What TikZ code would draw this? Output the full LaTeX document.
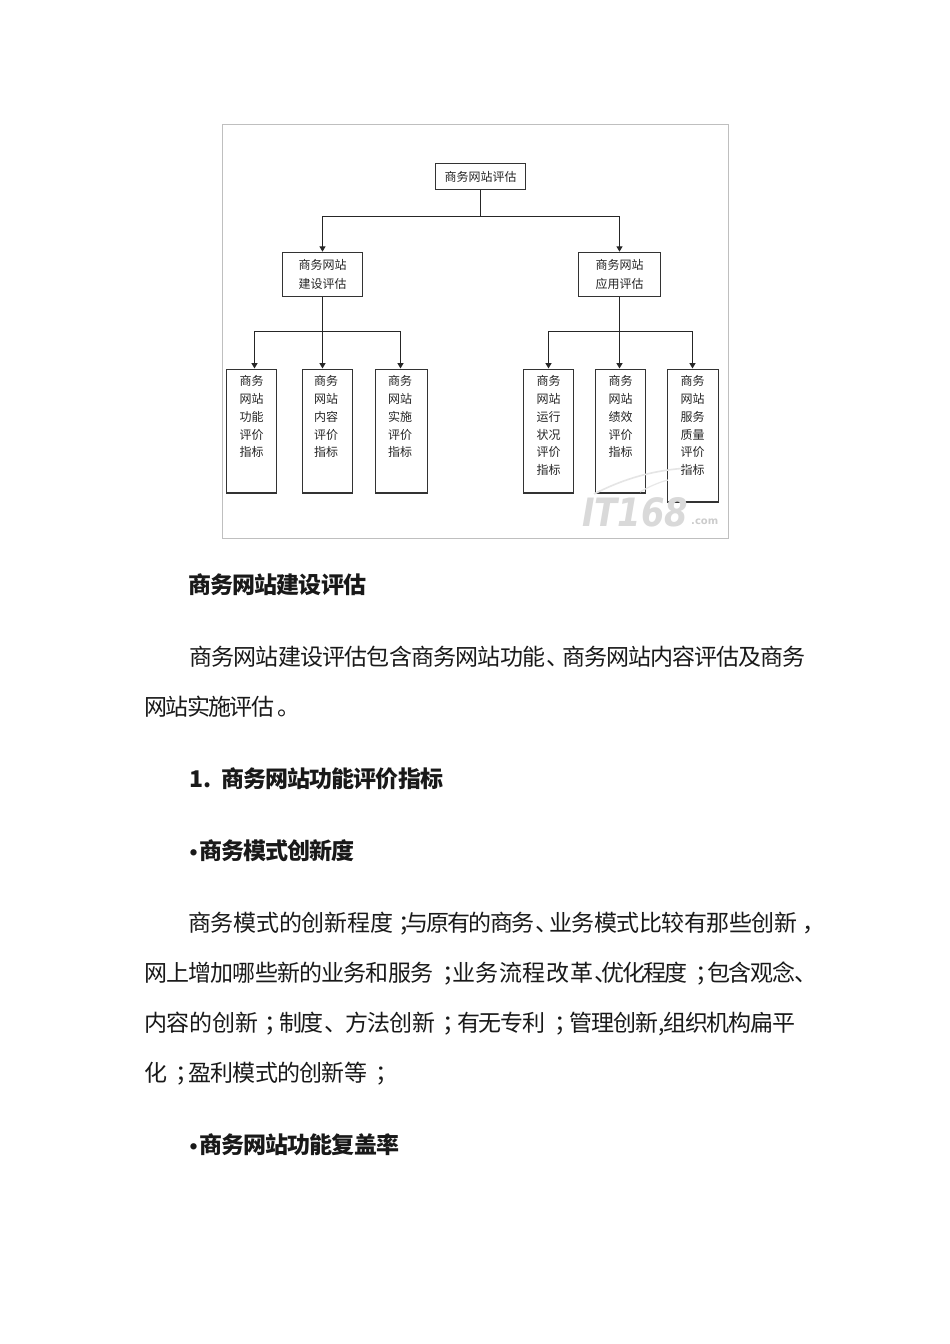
\documentclass[tikz,border=0pt]{standalone}
\usepackage{fontspec}
\setmainfont{Noto Sans CJK SC}
\newfontfamily\wmfont{DejaVu Sans}
\usetikzlibrary{arrows.meta}
\makeatletter
% set the characters of #2 evenly across #1 pt
\newcommand\seg[2]{\makebox[#1pt][s]{\@tempswafalse\@tfor\@ch:=#2\do{\if@tempswa\hskip 0pt plus 1fil minus 1fil\fi\@tempswatrue\@ch}}}
\makeatother
% punctuation #3 in a gap of #1 pt, set in by #2 pt
\newcommand\pn[3]{\makebox[#1pt][l]{\hspace{#2pt}#3}}
\newcommand\bul{\makebox[11pt][l]{\hspace{-0.3pt}{\wmfont\fontsize{18}{18}\selectfont •}}}
\tikzset{
 x=1pt,y=-1pt,
 box/.style={draw=black!80,line width=1.5pt,fill=white,inner sep=0pt,align=center,font=\fontsize{12}{17.75}\selectfont,text=black!85},
 plain/.style={box,draw=none,fill=none,anchor=north},
 leafbox/.style={box,minimum width=50pt,minimum height=123.5pt,anchor=north},
 midbox/.style={box,minimum width=80pt,minimum height=44pt},
 conn/.style={draw=black!85,line width=1.5pt},
 arr/.style={conn,-{Triangle[length=5.5pt,width=6pt]}},
 body/.style={anchor=west,inner sep=0pt,font=\fontsize{23}{23}\selectfont,text=black!90,text height=19pt,text depth=3pt},
 head/.style={body,font=\fontsize{23}{23}\selectfont\bfseries},
}
\begin{document}
\begin{tikzpicture}
\useasboundingbox (0,0) rectangle (950,1344);
\fill[white] (0,0) rectangle (950,1344);
\node[draw=black!25,line width=1pt,minimum width=506pt,minimum height=414pt,inner sep=0pt] (frame) at (475.5,331) {};
\node[box,minimum width=90pt,minimum height=26pt] (root) at (480.5,176.5) {商务网站评估};
\node[midbox] (build) at (322.5,274.5) {\shortstack{商务网站\\[5.7pt]建设评估}};
\node[midbox,minimum width=82pt] (apply) at (619.5,274.5) {\shortstack{商务网站\\[5.7pt]应用评估}};
\coordinate (busA) at (480.5,216.5);
\coordinate (busB) at (322.5,331.5);
\coordinate (busC) at (619.5,331.5);
\node[leafbox] (l1) at (251.5,368.5) {};
\node[leafbox] (l2) at (327.5,368.5) {};
\node[leafbox,minimum width=52pt] (l3) at (401.5,368.5) {};
\node[leafbox] (r1) at (548.5,368.5) {};
\node[leafbox] (r2) at (620.5,368.5) {};
\node[leafbox,minimum width=51pt,minimum height=132.5pt] (r3) at (693,368.5) {};
\node[plain] (tl1) at (251.5,375) {商务\\网站\\功能\\评价\\指标};
\node[plain] (tl2) at (326,375) {商务\\网站\\内容\\评价\\指标};
\node[plain] (tl3) at (400,375) {商务\\网站\\实施\\评价\\指标};
\node[plain] (tr1) at (548.5,375) {商务\\网站\\运行\\状况\\评价\\指标};
\node[plain] (tr2) at (620.5,375) {商务\\网站\\绩效\\评价\\指标};
\node[plain] (tr3) at (692.5,375) {商务\\网站\\服务\\质量\\评价\\指标};
\draw[conn] (root.south) -- (busA);
\draw[arr] (busA) -| (build.north);
\draw[arr] (busA) -| (apply.north);
\draw[conn] (build.south) -- (busB);
\draw[conn] (apply.south) -- (busC);
\draw[arr] (busB) -| ([xshift=3pt]l1.north);
\draw[arr] (busB) -- ([xshift=-5pt]l2.north);
\draw[arr] (busB) -| ([xshift=-1pt]l3.north);
\draw[arr] (busC) -| (r1.north);
\draw[arr] (busC) -- (r2.north -| busC);
\draw[arr] (busC) -| ([xshift=-0.5pt]r3.north);
% watermark
\draw[black!10,line width=1.6pt] (594,494) .. controls (625,478) and (655,470) .. (688,468);
\draw[black!9,line width=1.2pt] (640,492) .. controls (650,486) and (660,482) .. (668,480);
\node[text=black!15,inner sep=0pt,anchor=west] (mark) at (582,512.5) {\resizebox{106pt}{29pt}{\wmfont\bfseries\itshape IT168}};
\node[font=\wmfont\fontsize{10}{10}\selectfont\bfseries,text=black!20,inner sep=0pt,anchor=west] (markb) at (691,522) {.com};
% text
\node[head] (t1) at (188,585) {\seg{178}{商务网站建设评估}};
\node[body] (t2) at (189,657) {\seg{356}{商务网站建设评估包含商务网站功能}\pn{17}{1.5}{、}\seg{243}{商务网站内容评估及商务}};
\node[body] (t3) at (144,707) {\seg{130}{网站实施评估}\pn{20}{3}{。}};
\node[head] (t4) at (189,779) {\makebox[32pt][l]{1.}\seg{222}{商务网站功能评价指标}};
\node[head] (t5) at (188,851) {\bul\seg{155}{商务模式创新度}};
\node[body] (t6) at (188,923) {\seg{205}{商务模式的创新程度}\pn{12}{5.3}{；}\seg{129}{与原有的商务}\pn{15}{1.5}{、}\seg{248}{业务模式比较有那些创新}\pn{14}{5}{，}};
\node[body] (t7) at (144,973) {\seg{289}{网上增加哪些新的业务和服务}\pn{19}{9.3}{；}\seg{141}{业务流程改革}\pn{8}{1}{、}\seg{86}{优化程度}\pn{20}{8.3}{；}\seg{88}{包含观念}\pn{12}{-0.5}{、}};
\node[body] (t8) at (144,1023) {\seg{114}{内容的创新}\pn{21}{6}{；}\seg{44}{制度}\pn{22}{1.5}{、}\seg{90}{方法创新}\pn{22}{7.5}{；}\seg{88}{有无专利}\pn{24}{9.5}{；}\seg{89}{管理创新}\pn{5}{0}{,}\seg{132}{组织机构扁平}};
\node[body] (t9) at (144,1073) {\seg{21}{化}\pn{23}{10}{；}\seg{179}{盈利模式的创新等}\pn{14}{8}{；}};
\node[head] (t10) at (188,1145) {\bul\seg{200}{商务网站功能复盖率}};
\end{tikzpicture}
\end{document}
